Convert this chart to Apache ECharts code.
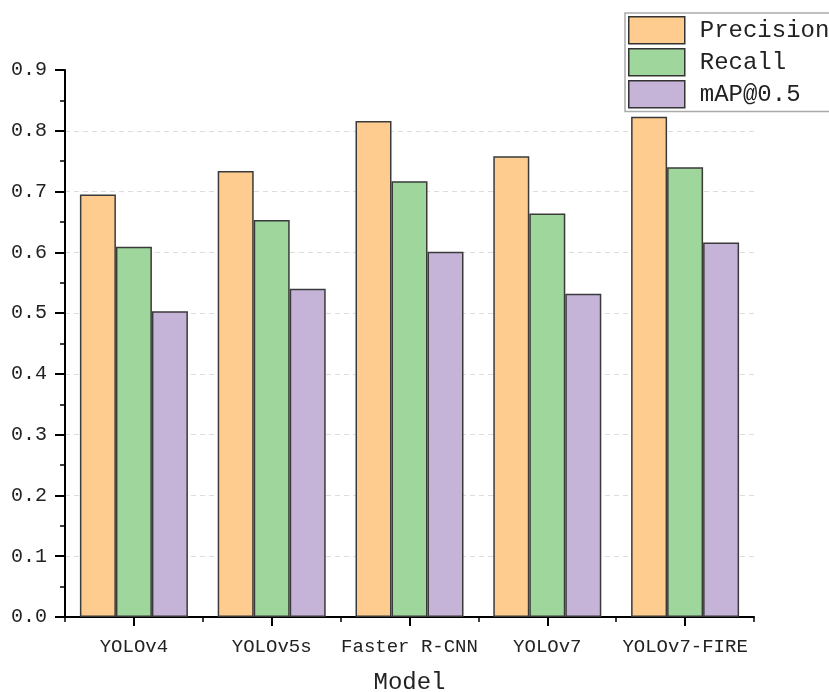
<!DOCTYPE html>
<html>
<head>
<meta charset="utf-8">
<script src="https://cdn.jsdelivr.net/npm/echarts@6/dist/echarts.min.js"></script>
<style>
html,body{margin:0;padding:0;background:#fff;overflow:hidden;}
#chart{width:829px;height:692px;}
</style>
</head>
<body>
<div id="chart"></div>
<script>
const categories = ['YOLOv4', 'YOLOv5s', 'Faster R-CNN', 'YOLOv7', 'YOLOv7-FIRE'];
const seriesNames = ['Precision', 'Recall', 'mAP@0.5'];
const precision = [0.695, 0.734, 0.816, 0.758, 0.823];
const recall = [0.609, 0.653, 0.717, 0.664, 0.740];
const map50 = [0.503, 0.540, 0.601, 0.532, 0.616];
const xAxisTitle = 'Model';

const colors = ['#FFCC8F', '#9ED69B', '#C6B3D8'];
const FONT = '"Liberation Mono", "DejaVu Sans Mono", monospace';

const chart = echarts.init(document.getElementById('chart'), null, {renderer: 'canvas'});

const gridColors = [];
for (let i = 0; i < 10; i++) gridColors.push(i === 9 || i === 0 ? 'rgba(0,0,0,0)' : '#dddddd');

function barSeries(name, data, color) {
  return {
    name: name,
    type: 'bar',
    data: data,
    barWidth: 36,
    barGap: '0%',
    xAxisIndex: 0,
    itemStyle: {color: color, borderColor: '#3a3a3a', borderWidth: 1.5}
  };
}

chart.setOption({
  animation: false,
  backgroundColor: '#fff',
  grid: {left: 65, right: 75, top: 70, bottom: 75, containLabel: false, outerBoundsMode: 'none'},
  legend: {
    orient: 'vertical',
    left: 625,
    top: 13,
    padding: [3, 40, 3, 3],
    itemGap: 3.5,
    itemWidth: 56,
    itemHeight: 27,
    icon: 'rect',
    borderColor: '#aaaaaa',
    borderWidth: 1.5,
    backgroundColor: '#fff',
    data: seriesNames,
    itemStyle: {borderColor: '#333', borderWidth: 1.5},
    textStyle: {fontFamily: FONT, fontSize: 24, color: '#222', padding: [0, 0, 0, 10]}
  },
  xAxis: [{
    type: 'category',
    data: categories,
    position: 'bottom',
    name: xAxisTitle,
    nameLocation: 'middle',
    nameGap: 54,
    nameTextStyle: {fontFamily: FONT, fontSize: 24, color: '#222'},
    axisLine: {show: true, lineStyle: {color: '#000', width: 2}},
    axisTick: {show: true, alignWithLabel: true, length: 9, lineStyle: {color: '#000', width: 2}},
    axisLabel: {fontFamily: FONT, fontSize: 19, color: '#222', margin: 20, interval: 0},
    splitLine: {show: false}
  }, {
    type: 'category',
    data: categories,
    position: 'bottom',
    axisLine: {show: false},
    axisTick: {show: true, length: 5, lineStyle: {color: '#000', width: 1.5}},
    axisLabel: {show: false},
    splitLine: {show: false}
  }],
  yAxis: {
    type: 'value',
    min: 0,
    max: 0.9,
    interval: 0.1,
    axisLine: {show: true, lineStyle: {color: '#000', width: 2}},
    axisTick: {show: true, length: 10, lineStyle: {color: '#000', width: 2}},
    minorTick: {show: true, splitNumber: 2, length: 5, lineStyle: {color: '#000', width: 1.5}},
    axisLabel: {
      fontFamily: FONT, fontSize: 20, color: '#222', margin: 18,
      formatter: function (v) { return v.toFixed(1); }
    },
    splitLine: {show: true, lineStyle: {color: gridColors, type: [5, 4], width: 1}}
  },
  series: [
    barSeries(seriesNames[0], precision, colors[0]),
    barSeries(seriesNames[1], recall, colors[1]),
    barSeries(seriesNames[2], map50, colors[2])
  ]
});
</script>
</body>
</html>
